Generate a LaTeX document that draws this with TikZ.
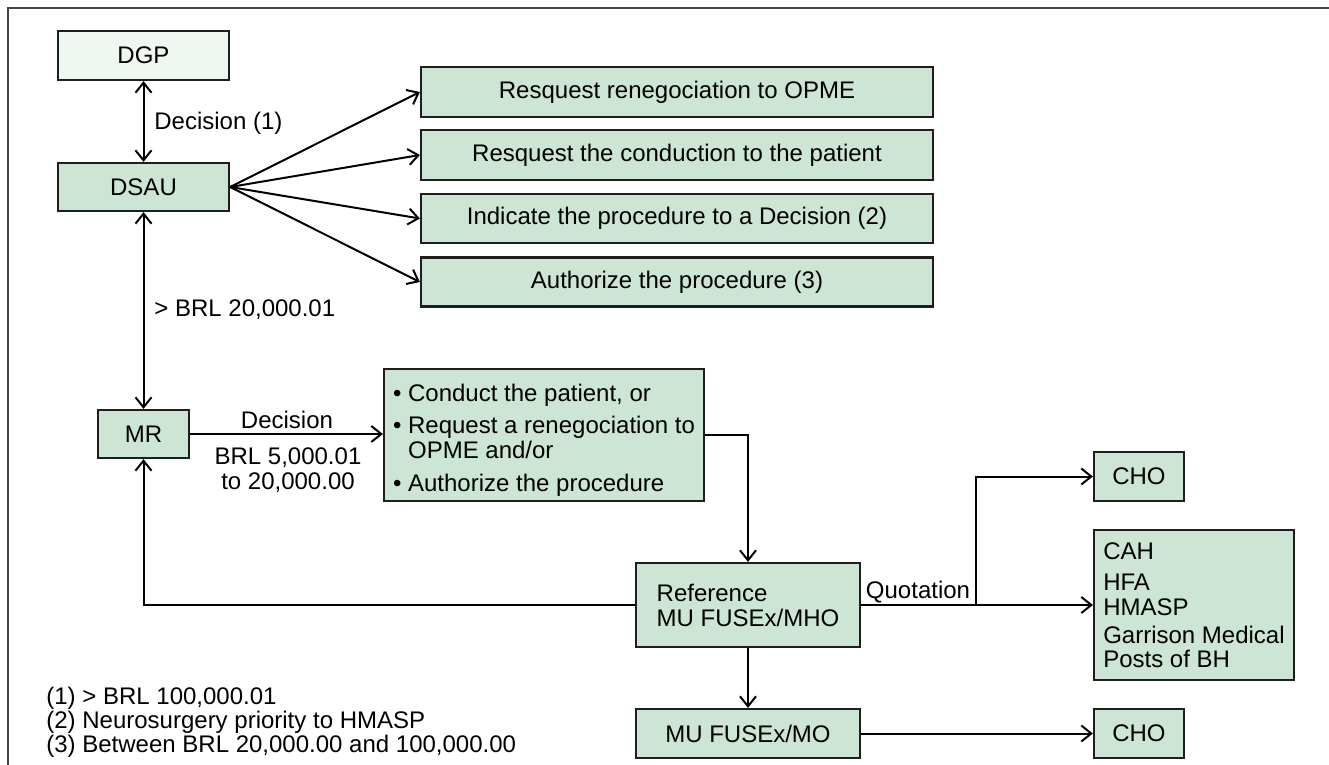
\documentclass[tikz,border=0pt]{standalone}
\usepackage{fontspec}
\setmainfont{Liberation Sans}
\usetikzlibrary{arrows.meta}
\definecolor{boxfill}{RGB}{204,229,212}
\definecolor{palefill}{RGB}{238,247,240}
\definecolor{edgec}{RGB}{30,30,30}
\definecolor{framec}{RGB}{70,70,70}
\tikzset{
  box/.style={draw=edgec, line width=1.1pt, fill=boxfill, inner sep=0pt, align=center},
  conn/.style={line width=1pt, draw=black},
  arr/.style={-{Straight Barb[length=5pt,width=8pt]}},
  darr/.style={{Straight Barb[length=5pt,width=8pt]}-{Straight Barb[length=5pt,width=8pt]}},
  lbl/.style={inner sep=0pt, align=center}
}
\begin{document}
\begin{tikzpicture}[x=0.5pt, y=-0.5pt, font=\fontsize{12}{12.5}\selectfont]
\useasboundingbox (0,0) rectangle (1329,765);
% frame
\draw[line width=1.4pt, draw=framec] (8,765) -- (8,8) -- (1329,8);

% nodes
\node[box, fill=palefill, minimum width=85.5pt, minimum height=24.5pt] (dgp) at (143.5,55.5) {DGP};
\node[box, minimum width=85.5pt, minimum height=24pt] (dsau) at (143.5,187) {DSAU};
\node[box, minimum width=256pt, minimum height=25pt] (r1) at (677,92) {Resquest renegociation to OPME};
\node[box, minimum width=256pt, minimum height=25pt] (r2) at (677,155) {Resquest the conduction to the patient};
\node[box, minimum width=256pt, minimum height=24.5pt] (r3) at (677,218.5) {Indicate the procedure to a Decision (2)};
\node[box, minimum width=256pt, minimum height=24.5pt] (r4) at (677,282) {Authorize the procedure (3)};
\node[box, minimum width=45.5pt, minimum height=24pt] (mr) at (143.5,434) {MR};
\node[box, minimum width=160pt, minimum height=66pt, align=left, font=\fontsize{12}{12.8}\selectfont] (bul) at (544,435)
  {\rule{0pt}{13.8pt}\textbullet\ Conduct the patient, or\\[3.3pt]
   \textbullet\ Request a renegociation to\\
   \phantom{\textbullet\ }OPME and/or\\[3.6pt]
   \textbullet\ Authorize the procedure};
\node[box, minimum width=112pt, minimum height=42pt, align=left] (ref) at (748,605) {Reference\\MU FUSEx/MHO};
\node[box, minimum width=112pt, minimum height=24.5pt] (mo) at (748,733.5) {MU FUSEx/MO};
\node[box, minimum width=45pt, minimum height=24.5pt] (cho1) at (1139,476.5) {CHO};
\node[box, minimum width=100pt, minimum height=75pt, align=left, font=\fontsize{12}{11.6}\selectfont] (big) at (1194,605)
  {CAH\\[4pt] HFA\\[1pt] HMASP\\[2.4pt] Garrison Medical\\ Posts of BH};
\node[box, minimum width=45pt, minimum height=24.5pt] (cho2) at (1139,733.5) {CHO};

% labels
\node[lbl, anchor=west] (ldec1) at (154,123) {Decision (1)};
\node[lbl, anchor=west] (lbrl) at (154,310) {> BRL 20,000.01};
\node[lbl] (ldec) at (287,420) {Decision};
\node[lbl] (lrange) at (288,470) {BRL 5,000.01\\to 20,000.00};
\node[lbl] (lquot) at (918,592) {Quotation};
\node[lbl, anchor=west, align=left, font=\fontsize{12}{12}\selectfont] (legend) at (46,722)
  {(1) > BRL 100,000.01\\(2) Neurosurgery priority to HMASP\\(3) Between BRL 20,000.00 and 100,000.00};

% connectors
\draw[conn, darr] (dgp) -- (dsau);
\draw[conn, arr] (dsau.east) -- (r1.west);
\draw[conn, arr] (dsau.east) -- (r2.west);
\draw[conn, arr] (dsau.east) -- (r3.west);
\draw[conn, arr] (dsau.east) -- (r4.west);
\draw[conn, darr] (dsau) -- (mr);
\draw[conn, arr] (mr.east) -- (mr.east -| bul.west);
\draw[conn, arr] (bul.east) -| (ref.north);
\draw[conn, arr] (ref.west) -| (mr.south);
\draw[conn, arr] (ref) -- (mo);
\draw[conn, arr] (ref.east) -- (big.west);
\coordinate (br) at (976,605);
\draw[conn, arr] (br) |- (cho1.west);
\draw[conn, arr] (mo) -- (cho2);
\end{tikzpicture}
\end{document}
